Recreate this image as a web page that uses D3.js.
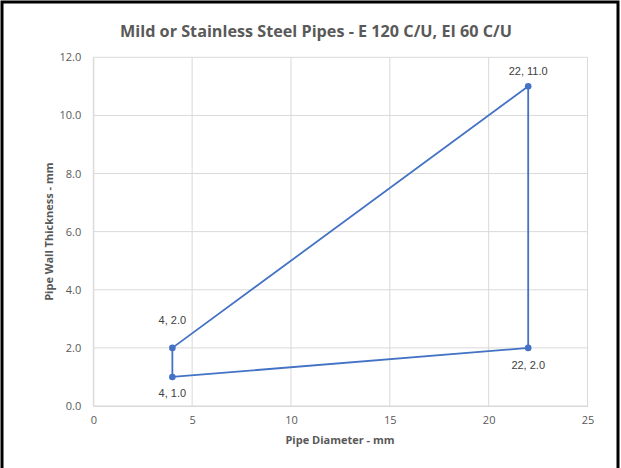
<!DOCTYPE html>
<html><head><meta charset="utf-8">
<script src="https://cdn.jsdelivr.net/npm/d3@7"></script>
<style>body{margin:0;background:#fff}svg{display:block}</style>
</head><body>
<script>
const title = "Mild or Stainless Steel Pipes - E 120 C/U, EI 60 C/U";
const xTitle = "Pipe Diameter - mm";
const yTitle = "Pipe Wall Thickness - mm";
const diameters = [4, 4, 22, 22, 4];
const thicknesses = [1.0, 2.0, 11.0, 2.0, 1.0];
const labels = ["4, 1.0", "4, 2.0", "22, 11.0", "22, 2.0"];
const xTicks = [0, 5, 10, 15, 20, 25];
const yTicks = [0, 2, 4, 6, 8, 10, 12];

const W = 621, H = 468;
const svg = d3.select("body").append("svg").attr("width", W).attr("height", H);
svg.append("rect").attr("width", W).attr("height", H).attr("fill", "#fff");

const x = d3.scaleLinear().domain([0, 25]).range([93.3, 587.5]);
const y = d3.scaleLinear().domain([0, 12]).range([406, 57.3]);
const font = "'Open Sans', 'Liberation Sans', sans-serif";
const labelFont = "'Liberation Sans', Arial, sans-serif";

// grid
svg.append("g").selectAll("line").data(yTicks).join("line")
  .attr("x1", x(0)).attr("x2", x(25)).attr("y1", d => y(d)).attr("y2", d => y(d))
  .attr("stroke", "#d9d9d9").attr("stroke-width", 1);
svg.append("g").selectAll("line").data(xTicks).join("line")
  .attr("y1", y(0)).attr("y2", y(12)).attr("x1", d => x(d)).attr("x2", d => x(d))
  .attr("stroke", "#d9d9d9").attr("stroke-width", 1);

// axes
const xAxis = svg.append("g").attr("transform", `translate(0,${y(0)})`)
  .call(d3.axisBottom(x).tickValues(xTicks).tickSize(0).tickPadding(10).tickFormat(d3.format("d")));
const yAxis = svg.append("g").attr("transform", `translate(${x(0)},0)`)
  .call(d3.axisLeft(y).tickValues(yTicks).tickSize(0).tickPadding(12).tickFormat(d3.format(".1f")));
[xAxis, yAxis].forEach(a => {
  a.select(".domain").attr("stroke", "#d9d9d9");
  a.selectAll("text").attr("fill", "#595959").style("font-family", font).style("font-size", "11px");
});

// line
const pts = diameters.map((d, i) => [d, thicknesses[i]]);
svg.append("path").datum(pts)
  .attr("d", d3.line().x(d => x(d[0])).y(d => y(d[1])))
  .attr("fill", "none").attr("stroke", "#4472c4").attr("stroke-width", 1.8);
svg.append("g").selectAll("circle").data(pts.slice(0, 4)).join("circle")
  .attr("cx", d => x(d[0])).attr("cy", d => y(d[1])).attr("r", 3.3).attr("fill", "#4472c4");

// data labels
const labelDy = [20, -24, -11, 21];
svg.append("g").selectAll("text").data(pts.slice(0, 4)).join("text")
  .attr("x", d => x(d[0])).attr("y", (d, i) => y(d[1]) + labelDy[i])
  .attr("text-anchor", "middle").attr("fill", "#404040")
  .style("font-family", labelFont).style("font-size", "11px")
  .text((d, i) => labels[i]);

// titles
svg.append("text").attr("x", 316).attr("y", 37).attr("text-anchor", "middle")
  .attr("fill", "#595959").style("font-family", font).style("font-size", "16.2px").style("font-weight", "bold")
  .text(title);
svg.append("text").attr("x", 340).attr("y", 444).attr("text-anchor", "middle")
  .attr("fill", "#595959").style("font-family", font).style("font-size", "11px").style("font-weight", "bold")
  .text(xTitle);
svg.append("text").attr("transform", `translate(53,${(y(0) + y(12)) / 2}) rotate(-90)`).attr("text-anchor", "middle")
  .attr("fill", "#595959").style("font-family", font).style("font-size", "11px").style("font-weight", "bold")
  .text(yTitle);

// outer frame
svg.append("path").attr("d", `M2,${H} V2 H618 V${H}`).attr("fill", "none").attr("stroke", "#000").attr("stroke-width", 3);
</script>
</body></html>
